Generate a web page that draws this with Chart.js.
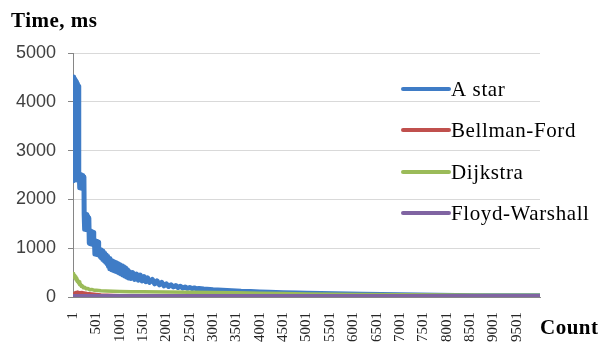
<!DOCTYPE html>
<html>
<head>
<meta charset="utf-8">
<script src="https://cdn.jsdelivr.net/npm/chart.js@4.4.1/dist/chart.umd.min.js"></script>
<style>
html,body{margin:0;padding:0;background:#fff;}
#wrap{position:relative;width:600px;height:350px;}
</style>
</head>
<body>
<div id="wrap"><canvas id="c" width="600" height="350"></canvas></div>
<script>
// ---- data ----
const seriesNames = ["A star", "Bellman-Ford", "Dijkstra", "Floyd-Warshall"];
const xTickLabels = [1,501,1001,1501,2001,2501,3001,3501,4001,4501,5001,5501,6001,6501,7001,7501,8001,8501,9001,9501];
const yTickValues = [0,1000,2000,3000,4000,5000];

const aStarCounts = [
  1,10,20,30,40,50,60,70,80,90,100,110,120,128,
  135,145,155,165,175,185,195,205,215,225,235,
  240,250,260,270,280,290,300,310,320,330,340,
  350,360,370,380,390,400,410,420,430,440,450,
  460,470,480,490,500,510,520,530,540,550,
  565,580,595,610,625,640,655,670,685,700,715,730,745,760,775,
  790,810,830,850,870,890,910,930,950,970,990,1010,1030,1050,1070,1090,1110,1130,1150,1170,1190,1210,
  1240,1280,1320,1360,1400,1440,1480,1520,1560,1600,1640,
  1700,1750,1800,1850,1900,1950,2000,2050,2100,2150,2200,2250,2300,2350,2400,2450,2500,2550,2600,2650,2700,
  2800,3000,3200,3400,3600,3800,4000,4200,4500,4800,5000,5300,5600,5900,6200,6600,7000,7400,7800,8200,8600,9000,9500,10000];
const aStarValues = [
  4510,2380,4490,2400,4460,2420,4430,2440,4400,2420,4360,2400,4320,2380,
  2520,2240,2510,2235,2500,2230,2490,2230,2480,2220,2460,
  1710,1390,1700,1385,1690,1380,1670,1375,1650,1370,1620,
  1100,1360,1090,1350,1085,1340,1080,1330,1075,1320,1070,
  1160,880,1150,875,1140,870,1130,865,1120,860,
  990,830,970,800,945,770,920,740,890,710,860,680,830,630,790,
  580,760,560,740,545,720,530,700,510,680,490,660,470,640,450,620,430,595,410,560,390,520,
  380,500,360,470,345,450,330,420,315,390,300,
  360,270,330,250,300,230,270,215,250,205,235,195,220,185,205,178,195,172,185,168,175,
  165,150,140,130,120,115,105,95,85,80,75,70,65,60,55,50,45,40,35,30,28,26,25,25];

const bellmanCounts = [1,50,100,150,200,300,400,600,1000,2000,5000,10000];
const bellmanValues = [40,90,100,85,90,70,60,40,25,20,18,15];

const dijkstraCounts = [1,10,20,30,40,50,60,70,80,90,100,115,130,145,160,180,200,220,250,280,320,360,400,450,500,600,700,850,1000,1250,1500,2000,2500,3000,3500,4000,4500,5000,6000,7000,8000,9000,10000];
const dijkstraValues = [480,420,470,400,440,380,420,350,390,320,350,290,310,250,270,220,230,190,200,170,175,150,155,140,140,130,125,120,115,110,110,105,95,90,85,75,70,60,50,45,40,38,35];

const floydCounts = [1,2500,5000,7500,10000];
const floydValues = [25,25,26,25,25];

const colors = ["#3F7CC6", "#C0504D", "#9BBB59", "#8064A2"];

function pts(xs, ys){ return xs.map((x,i)=>({x:x, y:ys[i]})); }

const overlay = {
  id: 'overlay',
  afterDraw(chart){
    const ctx = chart.ctx;
    ctx.save();
    ctx.fillStyle = '#000';
    ctx.textBaseline = 'alphabetic';
    ctx.textAlign = 'left';
    ctx.font = 'bold 21px "Liberation Serif"';
    ctx.letterSpacing = '0.5px';
    ctx.fillText('Time, ms', 11, 27);
    ctx.fillText('Count', 540, 334);
    // legend
    const ys = [89, 130, 172, 213];
    ctx.font = '21px "Liberation Serif"';
    ctx.letterSpacing = '0.6px';
    ctx.textBaseline = 'middle';
    seriesNames.forEach((n,i)=>{
      ctx.strokeStyle = colors[i];
      ctx.lineWidth = 4;
      ctx.lineCap = 'round';
      ctx.beginPath();
      ctx.moveTo(403, ys[i]); ctx.lineTo(449, ys[i]);
      ctx.stroke();
      ctx.fillStyle = '#000';
      ctx.fillText(n, 451, ys[i] + 1);
    });
    ctx.restore();
  }
};

new Chart(document.getElementById('c'), {
  type: 'line',
  data: {
    datasets: [
      {label: seriesNames[0], data: pts(aStarCounts, aStarValues), borderColor: colors[0], borderWidth: 5, order: 4},
      {label: seriesNames[1], data: pts(bellmanCounts, bellmanValues), borderColor: colors[1], borderWidth: 3.5, order: 3},
      {label: seriesNames[2], data: pts(dijkstraCounts, dijkstraValues), borderColor: colors[2], borderWidth: 3.5, order: 2},
      {label: seriesNames[3], data: pts(floydCounts, floydValues), borderColor: colors[3], borderWidth: 3.5, order: 1}
    ]
  },
  options: {
    responsive: false,
    animation: false,
    events: [],
    elements: { point: { radius: 0 }, line: { tension: 0, borderJoinStyle: 'round' } },
    layout: { padding: { top: 53, right: 60, left: 0, bottom: 0 } },
    plugins: { legend: { display: false }, tooltip: { enabled: false } },
    scales: {
      x: {
        type: 'linear',
        min: 1,
        max: 10000,
        afterBuildTicks: (s) => { s.ticks = xTickLabels.map(v => ({value: v})); },
        afterFit: (s) => { s.height = 53; },
        grid: { display: false, drawTicks: false },
        border: { display: true, color: '#868686', width: 1 },
        ticks: {
          autoSkip: false,
          minRotation: 90,
          maxRotation: 90,
          padding: 15,
          color: '#262626',
          font: { family: 'Liberation Serif', size: 15 },
          callback: (v) => String(v)
        }
      },
      y: {
        min: 0,
        max: 5000,
        afterBuildTicks: (s) => { s.ticks = yTickValues.map(v => ({value: v})); },
        afterFit: (s) => { s.width = 73; },
        grid: { color: '#d9d9d9', lineWidth: 1, tickColor: '#868686', tickLength: 5 },
        border: { display: true, color: '#868686', width: 1 },
        ticks: {
          padding: 12,
          color: '#404040',
          font: { family: 'Liberation Sans', size: 18 },
          callback: (v) => String(v)
        }
      }
    }
  },
  plugins: [overlay]
});
</script>
</body>
</html>
